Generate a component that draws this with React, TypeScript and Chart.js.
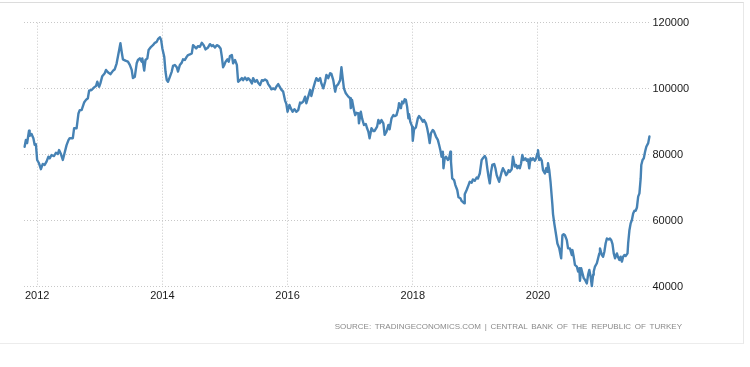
import React, { useEffect, useRef } from 'react';
import { Chart, registerables } from 'chart.js';

Chart.register(...registerables);

const DATES: number[] = [
  2011.80, 2011.82, 2011.84, 2011.87, 2011.88, 2011.91, 2011.94, 2011.96, 2011.98, 2012.00,
  2012.03, 2012.06, 2012.09, 2012.12, 2012.15, 2012.18, 2012.20, 2012.23, 2012.27, 2012.30,
  2012.33, 2012.35, 2012.38, 2012.41, 2012.43, 2012.47, 2012.50, 2012.52, 2012.57, 2012.59,
  2012.63, 2012.66, 2012.68, 2012.71, 2012.75, 2012.78, 2012.81, 2012.83, 2012.87, 2012.91,
  2012.94, 2012.96, 2012.99, 2013.01, 2013.04, 2013.08, 2013.10, 2013.13, 2013.17, 2013.21,
  2013.24, 2013.27, 2013.31, 2013.33, 2013.35, 2013.37, 2013.41, 2013.45, 2013.48, 2013.51,
  2013.53, 2013.56, 2013.59, 2013.61, 2013.64, 2013.67, 2013.68, 2013.71, 2013.73, 2013.76,
  2013.78, 2013.82, 2013.85, 2013.88, 2013.91, 2013.93, 2013.96, 2013.98, 2014.00, 2014.03,
  2014.05, 2014.07, 2014.09, 2014.12, 2014.15, 2014.17, 2014.20, 2014.23, 2014.25, 2014.28,
  2014.31, 2014.33, 2014.36, 2014.39, 2014.41, 2014.44, 2014.47, 2014.49, 2014.54, 2014.57,
  2014.60, 2014.63, 2014.66, 2014.69, 2014.73, 2014.76, 2014.79, 2014.81, 2014.84, 2014.87,
  2014.90, 2014.93, 2014.95, 2014.97, 2014.99, 2015.01, 2015.04, 2015.06, 2015.08, 2015.11,
  2015.13, 2015.16, 2015.19, 2015.21, 2015.24, 2015.27, 2015.29, 2015.32, 2015.35, 2015.37,
  2015.40, 2015.43, 2015.45, 2015.48, 2015.51, 2015.53, 2015.56, 2015.59, 2015.61, 2015.64,
  2015.67, 2015.69, 2015.72, 2015.74, 2015.77, 2015.80, 2015.82, 2015.85, 2015.88, 2015.90,
  2015.93, 2015.96, 2015.98, 2016.00, 2016.03, 2016.05, 2016.08, 2016.11, 2016.14, 2016.17,
  2016.20, 2016.22, 2016.25, 2016.28, 2016.30, 2016.33, 2016.36, 2016.38, 2016.41, 2016.44,
  2016.46, 2016.49, 2016.52, 2016.54, 2016.57, 2016.60, 2016.62, 2016.65, 2016.68, 2016.70,
  2016.73, 2016.76, 2016.78, 2016.81, 2016.84, 2016.86, 2016.88, 2016.90, 2016.93, 2016.97,
  2017.00, 2017.01, 2017.03, 2017.06, 2017.08, 2017.10, 2017.13, 2017.14, 2017.17, 2017.19,
  2017.22, 2017.25, 2017.27, 2017.29, 2017.31, 2017.34, 2017.37, 2017.39, 2017.43, 2017.45,
  2017.47, 2017.50, 2017.53, 2017.55, 2017.58, 2017.61, 2017.63, 2017.66, 2017.69, 2017.71,
  2017.74, 2017.77, 2017.78, 2017.81, 2017.83, 2017.85, 2017.87, 2017.89, 2017.91, 2017.93,
  2017.94, 2017.96, 2017.99, 2018.00, 2018.02, 2018.05, 2018.08, 2018.10, 2018.13, 2018.16,
  2018.18, 2018.21, 2018.23, 2018.25, 2018.27, 2018.29, 2018.32, 2018.34, 2018.37, 2018.40,
  2018.42, 2018.44, 2018.46, 2018.48, 2018.49, 2018.51, 2018.53, 2018.56, 2018.58, 2018.60,
  2018.61, 2018.63, 2018.66, 2018.68, 2018.71, 2018.73, 2018.76, 2018.78, 2018.81, 2018.82,
  2018.83, 2018.86, 2018.89, 2018.91, 2018.94, 2018.96, 2018.99, 2019.02, 2019.04, 2019.07,
  2019.10, 2019.12, 2019.15, 2019.17, 2019.19, 2019.21, 2019.23, 2019.25, 2019.27, 2019.30,
  2019.32, 2019.34, 2019.36, 2019.38, 2019.40, 2019.42, 2019.44, 2019.47, 2019.49, 2019.51,
  2019.53, 2019.55, 2019.58, 2019.60, 2019.63, 2019.65, 2019.67, 2019.69, 2019.71, 2019.73,
  2019.75, 2019.77, 2019.80, 2019.82, 2019.84, 2019.86, 2019.88, 2019.90, 2019.92, 2019.95,
  2019.97, 2019.99, 2020.00, 2020.02, 2020.04, 2020.06, 2020.08, 2020.11, 2020.13, 2020.15,
  2020.16, 2020.18, 2020.20, 2020.23, 2020.24, 2020.26, 2020.29, 2020.31, 2020.34, 2020.37,
  2020.39, 2020.41, 2020.43, 2020.46, 2020.48, 2020.51, 2020.54, 2020.55, 2020.57, 2020.59,
  2020.62, 2020.64, 2020.66, 2020.67, 2020.69, 2020.71, 2020.73, 2020.75, 2020.78, 2020.80,
  2020.82, 2020.84, 2020.86, 2020.88, 2020.89, 2020.91, 2020.94, 2020.96, 2020.98, 2020.99,
  2021.02, 2021.04, 2021.06, 2021.08, 2021.10, 2021.13, 2021.15, 2021.17, 2021.19, 2021.21,
  2021.23, 2021.26, 2021.28, 2021.30, 2021.32, 2021.34, 2021.36, 2021.38, 2021.40, 2021.43,
  2021.44, 2021.46, 2021.48, 2021.50, 2021.52, 2021.54, 2021.56, 2021.58, 2021.60, 2021.62,
  2021.64, 2021.65, 2021.67, 2021.69, 2021.71, 2021.73, 2021.76, 2021.78,
];

const RESERVES: number[] = [
  82400, 84500, 83500, 87300, 85700, 86300, 85000, 83000, 83200, 78400,
  77400, 75600, 77200, 76900, 77900, 79400, 78900, 79900, 79600, 80600,
  80200, 81400, 80200, 78400, 79900, 82900, 84400, 85000, 85000, 88000,
  88000, 92500, 93500, 93500, 95800, 96600, 97100, 99400, 99600, 100400,
  100800, 102100, 100600, 101600, 103800, 104700, 105700, 105000, 104400, 105400,
  105900, 107700, 111700, 113800, 111200, 108900, 108500, 108200, 107200, 105700,
  103200, 103600, 107700, 108700, 109200, 108200, 109200, 105500, 108700, 109200,
  111700, 112700, 113200, 113900, 114200, 115000, 115600, 114800, 112200, 109700,
  105200, 102600, 102100, 103600, 105200, 106900, 107200, 106500, 105200, 107200,
  107900, 108900, 108700, 109700, 110200, 110400, 110700, 113200, 112200, 112900,
  112700, 113900, 113200, 111900, 112500, 113500, 112900, 113200, 112500, 113200,
  112900, 112200, 109700, 106500, 107200, 108200, 108900, 108200, 109900, 110200,
  107700, 108700, 107200, 102100, 102600, 103200, 102600, 103400, 102600, 103200,
  102600, 101600, 103200, 102100, 102600, 101800, 101100, 102600, 102400, 102800,
  102400, 101400, 100600, 99800, 100100, 99800, 100600, 101400, 100400, 99700,
  99100, 96400, 95400, 93000, 95100, 94100, 93000, 93800, 93000, 93500,
  95800, 95600, 96100, 97600, 95600, 97600, 99600, 97800, 100100, 102100,
  103200, 102400, 103200, 101600, 100100, 102100, 104200, 103200, 104700, 104500,
  102600, 99100, 100800, 101400, 102600, 106500, 103200, 100100, 98600, 97600,
  97100, 94100, 96600, 93500, 92000, 92700, 92500, 89500, 93000, 91000,
  89000, 89300, 88000, 87000, 85000, 88000, 87200, 87200, 88500, 90500,
  89500, 90500, 89500, 86000, 87000, 89000, 87700, 91000, 92000, 91700,
  92000, 94100, 95600, 94100, 96100, 95600, 96800, 96600, 94500, 91000,
  92300, 90000, 88500, 84200, 87700, 88300, 91000, 91700, 91000, 90000,
  90500, 89500, 88000, 86000, 83500, 86500, 87500, 87000, 85500, 84500,
  83000, 81400, 79400, 80900, 75900, 78900, 79400, 78400, 78900, 80900,
  77900, 72800, 72300, 70800, 69300, 67100, 66800, 66000, 65500, 65300,
  68000, 69300, 70800, 71800, 71500, 72500, 72100, 73100, 72800, 74300,
  78400, 78900, 79600, 78900, 75900, 73300, 71300, 74800, 76900, 77200,
  75900, 73800, 72800, 71800, 73300, 74800, 75900, 74800, 73800, 74300,
  75300, 74800, 75600, 79400, 76400, 76900, 75900, 76600, 75900, 77400,
  79900, 78400, 78900, 78200, 78600, 75900, 78900, 78400, 78900, 78200,
  78900, 80400, 81400, 78400, 78900, 78200, 75300, 74300, 75900, 74800,
  77400, 75300, 71800, 64800, 62000, 59200, 55600, 53100, 51600, 48600,
  55600, 55900, 55600, 54100, 51600, 51600, 49600, 51100, 49100, 46600,
  46100, 44600, 45600, 41800, 45600, 44100, 42600, 42100, 41000, 43600,
  45100, 43100, 40200, 43600, 44600, 46100, 47100, 48600, 50100, 51600,
  49600, 49100, 50600, 53100, 54600, 54300, 54600, 54100, 52900, 50100,
  48600, 50100, 48900, 48100, 49100, 47600, 49100, 49600, 49300, 50100,
  53100, 57100, 59200, 60200, 62200, 63000, 63000, 64000, 67300, 68300,
  72800, 76900, 78400, 78900, 80900, 82400, 83500, 85500,
];

const X_TICKS: number[] = [2012, 2014, 2016, 2018, 2020];
const Y_TICKS: number[] = [40000, 60000, 80000, 100000, 120000];
const SOURCE_TEXT = 'SOURCE: TRADINGECONOMICS.COM | CENTRAL BANK OF THE REPUBLIC OF TURKEY';

const W = 750;
const H = 367;

export default function App() {
  const ref = useRef<HTMLCanvasElement | null>(null);

  useEffect(() => {
    const canvas = ref.current;
    if (!canvas) return;
    const points = DATES.map((d, i) => ({ x: d, y: RESERVES[i] }));
    const tickFont = { family: '"Liberation Sans", Arial, sans-serif', size: 11 };
    const chart = new Chart(canvas, {
      type: 'line',
      data: {
        datasets: [
          {
            data: points,
            borderColor: '#4682b4',
            borderWidth: 2.4,
            pointRadius: 0,
            tension: 0,
            fill: false,
            borderJoinStyle: 'round',
            borderCapStyle: 'round',
            clip: false as any,
          },
        ],
      },
      options: {
        responsive: false,
        animation: false,
        events: [],
        layout: { padding: { left: 24, top: 22.7, right: 0, bottom: 0 } },
        plugins: { legend: { display: false }, tooltip: { enabled: false } },
        scales: {
          x: {
            type: 'linear',
            min: 2011.79,
            max: 2021.765,
            afterBuildTicks: (s: any) => {
              s.ticks = X_TICKS.map((v) => ({ value: v }));
            },
            afterFit: (s: any) => {
              s.height = H - 286.7;
            },
            ticks: {
              callback: (v: any) => String(v),
              font: tickFont,
              color: '#1a1a1a',
              padding: 3,
              maxRotation: 0,
              autoSkip: false,
            },
            grid: { color: '#c8c8c8', drawTicks: false, lineWidth: 1 },
            border: { display: false, dash: [1, 2] },
          },
          y: {
            position: 'right',
            min: 40000,
            max: 120000,
            afterBuildTicks: (s: any) => {
              s.ticks = Y_TICKS.map((v) => ({ value: v }));
            },
            afterFit: (s: any) => {
              s.width = W - 648.5;
            },
            ticks: {
              callback: (v: any) => String(v),
              font: tickFont,
              color: '#1a1a1a',
              padding: 4,
            },
            grid: { color: '#c8c8c8', drawTicks: false, lineWidth: 1 },
            border: { display: false, dash: [1, 2] },
          },
        },
      } as any,
    });
    return () => chart.destroy();
  }, []);

  return (
    <div style={{ position: 'fixed', left: 0, top: 0, width: W, height: H, background: '#fff', overflow: 'hidden' }}>
      <div
        style={{
          position: 'absolute',
          left: -2,
          top: 2,
          width: 745,
          height: 340,
          borderTop: '1px solid #dcdcdc',
          borderRight: '1px solid #e8e8e8',
          borderBottom: '1px solid #ececec',
        }}
      />
      <canvas ref={ref} width={W} height={H} style={{ position: 'absolute', left: 0, top: 0, width: W, height: H }} />
      <div
        style={{
          position: 'absolute',
          right: W - 682,
          top: 322,
          fontFamily: '"Liberation Sans", Arial, sans-serif',
          fontSize: 8,
          lineHeight: '10px',
          letterSpacing: '0px',
          wordSpacing: '1.5px',
          color: '#8a8a8a',
          whiteSpace: 'nowrap',
        }}
      >
        {SOURCE_TEXT}
      </div>
    </div>
  );
}
